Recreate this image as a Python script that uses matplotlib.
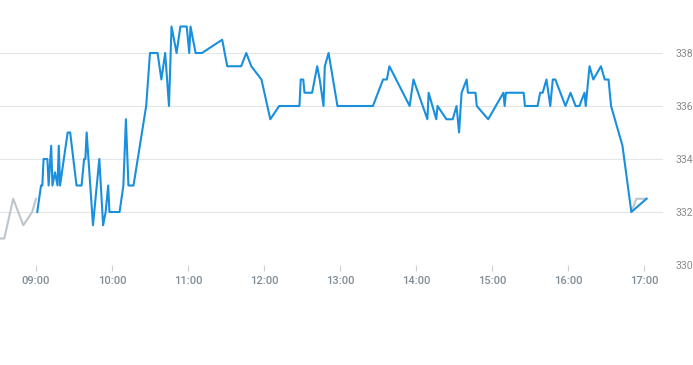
import matplotlib
matplotlib.use("Agg")
import matplotlib.pyplot as plt
import matplotlib.dates as mdates
import pandas as pd

# grey reference series (before open and the tail at the close)
grey_times = ["08:32", "08:35", "08:42", "08:50", "08:57", "09:00"]
grey_vals = [331.0, 331.0, 332.5, 331.5, 332.0, 332.5]
grey_end_times = ["16:50", "16:54", "17:02"]
grey_end_vals = [332.0, 332.5, 332.5]

# main price series
times = ["09:01", "09:04", "09:05", "09:06", "09:09", "09:10", "09:12", "09:13",
         "09:15", "09:17", "09:18", "09:19", "09:25", "09:27", "09:32", "09:36",
         "09:38", "09:39", "09:40", "09:45", "09:50", "09:53", "09:55", "09:57",
         "09:58", "10:06", "10:09", "10:11", "10:13", "10:17", "10:27", "10:30",
         "10:36", "10:39", "10:42", "10:45", "10:47", "10:51", "10:54", "10:59",
         "11:01", "11:02", "11:06", "11:11", "11:27", "11:31", "11:42", "11:46",
         "11:50", "11:58", "12:05", "12:12", "12:28", "12:29", "12:31", "12:32",
         "12:38", "12:42", "12:44", "12:47", "12:48", "12:51", "12:58", "13:26",
         "13:34", "13:37", "13:39", "13:55", "13:58", "14:09", "14:10", "14:16",
         "14:17", "14:24", "14:29", "14:32", "14:34", "14:36", "14:40", "14:41",
         "14:47", "14:48", "14:57", "15:09", "15:10", "15:11", "15:25", "15:26",
         "15:36", "15:38", "15:40", "15:43", "15:46", "15:48", "15:50", "15:58",
         "16:02", "16:06", "16:09", "16:13", "16:14", "16:17", "16:20", "16:26",
         "16:29", "16:32", "16:34", "16:43", "16:50", "17:02"]
prices = [332.0, 333.0, 333.0, 334.0, 334.0, 333.0, 334.5, 333.0,
          333.5, 333.0, 334.5, 333.0, 335.0, 335.0, 333.0, 333.0,
          334.0, 334.0, 335.0, 331.5, 334.0, 331.5, 332.0, 333.0,
          332.0, 332.0, 333.0, 335.5, 333.0, 333.0, 336.0, 338.0,
          338.0, 337.0, 338.0, 336.0, 339.0, 338.0, 339.0, 339.0,
          338.0, 339.0, 338.0, 338.0, 338.5, 337.5, 337.5, 338.0,
          337.5, 337.0, 335.5, 336.0, 336.0, 337.0, 337.0, 336.5,
          336.5, 337.5, 337.0, 336.0, 337.5, 338.0, 336.0, 336.0,
          337.0, 337.0, 337.5, 336.0, 337.0, 335.5, 336.5, 335.5,
          336.0, 335.5, 335.5, 336.0, 335.0, 336.5, 337.0, 336.5,
          336.5, 336.0, 335.5, 336.5, 336.0, 336.5, 336.5, 336.0,
          336.0, 336.5, 336.5, 337.0, 336.0, 337.0, 337.0, 336.0,
          336.5, 336.0, 336.0, 336.5, 336.0, 337.5, 337.0, 337.5,
          337.0, 337.0, 336.0, 334.5, 332.0, 332.5]

y_ticks = [330, 332, 334, 336, 338]


def to_dt(ts):
    return pd.to_datetime(["2024-01-02 " + t for t in ts])


plt.rcParams["font.family"] = ["Roboto", "DejaVu Sans"]

fig = plt.figure(figsize=(6.93, 3.65), dpi=100)
ax = fig.add_axes([0, 100 / 365, 663 / 693, 265 / 365])

ax.plot(to_dt(grey_times), grey_vals, color="#bcc6cc", lw=1.5)
ax.plot(to_dt(grey_end_times), grey_end_vals, color="#bcc6cc", lw=1.5)
ax.plot(to_dt(times), prices, color="#1a8fdd", lw=1.5)

ax.set_xlim(pd.Timestamp("2024-01-02 08:31:36"), pd.Timestamp("2024-01-02 17:15:00"))
ax.set_ylim(330, 340)

ax.xaxis.set_major_locator(mdates.HourLocator(byhour=range(9, 18)))
ax.xaxis.set_major_formatter(mdates.DateFormatter("%H:%M"))
ax.yaxis.tick_right()
ax.set_yticks(y_ticks)
ax.set_yticklabels([str(v) for v in y_ticks])

ax.tick_params(axis="x", length=4, width=0.8, color="#ccd3d8", pad=4,
               labelsize=8, labelcolor="#7f8d99")
ax.tick_params(axis="y", length=0, pad=9, labelsize=7.5, labelcolor="#8a8a8a")
for lbl in ax.get_xticklabels():
    lbl.set_fontweight("medium")

ax.grid(axis="y", color="#e3e6e9", lw=0.8)
ax.grid(axis="x", visible=False)
for s in ax.spines.values():
    s.set_visible(False)

fig.savefig("out.png", dpi=100)
